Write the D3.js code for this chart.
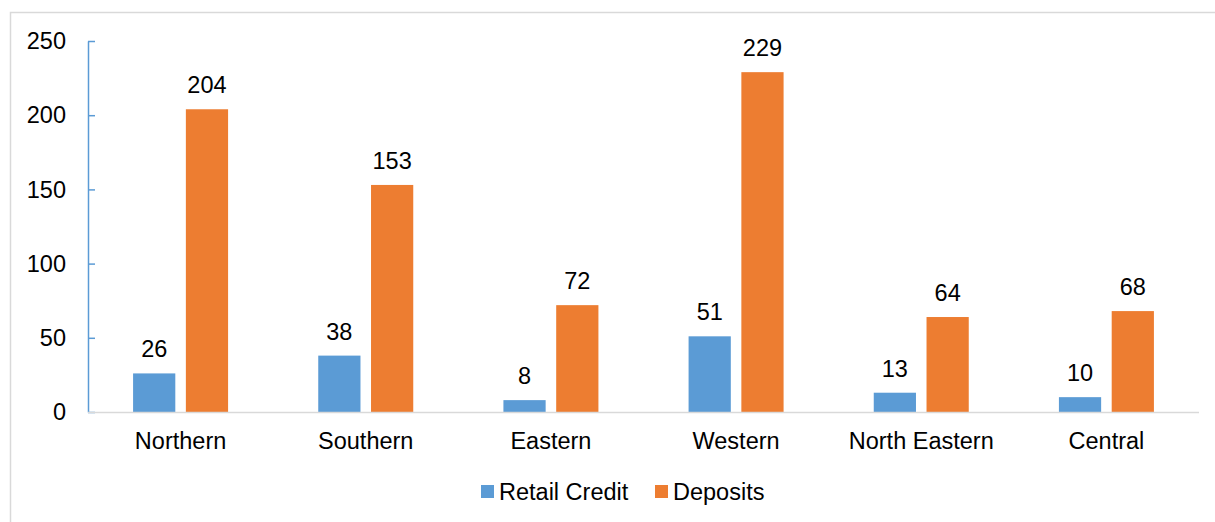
<!DOCTYPE html>
<html>
<head>
<meta charset="utf-8">
<script src="https://cdn.jsdelivr.net/npm/d3@7"></script>
<style>
  html, body { margin: 0; padding: 0; background: #fff; }
  svg { display: block; font-family: "Liberation Sans", Arial, sans-serif; }
</style>
</head>
<body>
<svg id="chart" width="1215" height="522"></svg>
<script>
// Regions and the two series plotted for each
const regions = ["Northern", "Southern", "Eastern", "Western", "North Eastern", "Central"];
const seriesNames = ["Retail Credit", "Deposits"];
const retailCredit = [26, 38, 8, 51, 13, 10];
const deposits = [204, 153, 72, 229, 64, 68];
const yTicks = [0, 50, 100, 150, 200, 250];
const colors = ["#5B9BD5", "#ED7D31"];

const svg = d3.select("#chart");
const W = 1215, H = 522;
const plot = { left: 88, right: 1199, top: 41, bottom: 412 };
const fontSize = 23.5;

// Outer frame
svg.append("rect")
  .attr("x", 10.5).attr("y", 12.5)
  .attr("width", W + 10).attr("height", H + 10)
  .attr("fill", "#fff").attr("stroke", "#d9d9d9").attr("stroke-width", 1.5);

const x0 = d3.scaleBand().domain(regions).range([plot.left, plot.right]).padding(0);
const x1 = d3.scaleBand().domain(seriesNames).range([-47.5, 47.5]).paddingInner(0.2);
const y = d3.scaleLinear().domain([0, 250]).range([plot.bottom, plot.top]);

const valuesBySeries = [retailCredit, deposits];
const rows = regions.map((r, i) => ({
  region: r,
  values: seriesNames.map((s, k) => ({ series: s, k, value: valuesBySeries[k][i] }))
}));

// Y axis: blue line with inward ticks, labels on the left
const yAxis = svg.append("g").attr("transform", `translate(${plot.left},0)`)
  .call(d3.axisRight(y).tickValues(yTicks).tickSize(7).tickSizeOuter(0).tickFormat(""));
yAxis.select(".domain").attr("stroke", "#5B9BD5").attr("stroke-width", 1.5);
yAxis.selectAll(".tick line").attr("stroke", "#5B9BD5").attr("stroke-width", 1.5);

svg.append("g").selectAll("text").data(yTicks).join("text")
  .attr("x", 66).attr("y", d => y(d))
  .attr("dy", "0.35em")
  .attr("text-anchor", "end")
  .attr("font-size", fontSize).attr("fill", "#000")
  .text(d => d);

// Bars
const groups = svg.append("g").selectAll("g").data(rows).join("g")
  .attr("transform", d => `translate(${x0(d.region) + x0.bandwidth() / 2},0)`);

groups.selectAll("rect").data(d => d.values).join("rect")
  .attr("x", d => x1(d.series))
  .attr("width", x1.bandwidth())
  .attr("y", d => y(d.value))
  .attr("height", d => y(0) - y(d.value))
  .attr("fill", d => colors[d.k]);

// Value labels
groups.selectAll("text.val").data(d => d.values).join("text")
  .attr("class", "val")
  .attr("x", d => x1(d.series) + x1.bandwidth() / 2)
  .attr("y", d => y(d.value) - 16)
  .attr("text-anchor", "middle")
  .attr("font-size", fontSize).attr("fill", "#000")
  .text(d => d.value);

// X axis baseline
svg.append("line")
  .attr("x1", plot.left).attr("x2", plot.right)
  .attr("y1", y(0) + 0.5).attr("y2", y(0) + 0.5)
  .attr("stroke", "#d9d9d9").attr("stroke-width", 1.5);

// Category labels
svg.append("g").selectAll("text").data(regions).join("text")
  .attr("x", d => x0(d) + x0.bandwidth() / 2)
  .attr("y", 449)
  .attr("text-anchor", "middle")
  .attr("font-size", fontSize).attr("fill", "#000")
  .text(d => d);

// Legend
const legendX = [481, 655];
const legend = svg.append("g").selectAll("g").data(seriesNames).join("g")
  .attr("transform", (d, i) => `translate(${legendX[i]},485)`);
legend.append("rect").attr("width", 13).attr("height", 13)
  .attr("fill", (d, i) => colors[i]);
legend.append("text").attr("x", 18).attr("y", 15)
  .attr("font-size", fontSize).attr("fill", "#000")
  .text(d => d);
</script>
</body>
</html>
